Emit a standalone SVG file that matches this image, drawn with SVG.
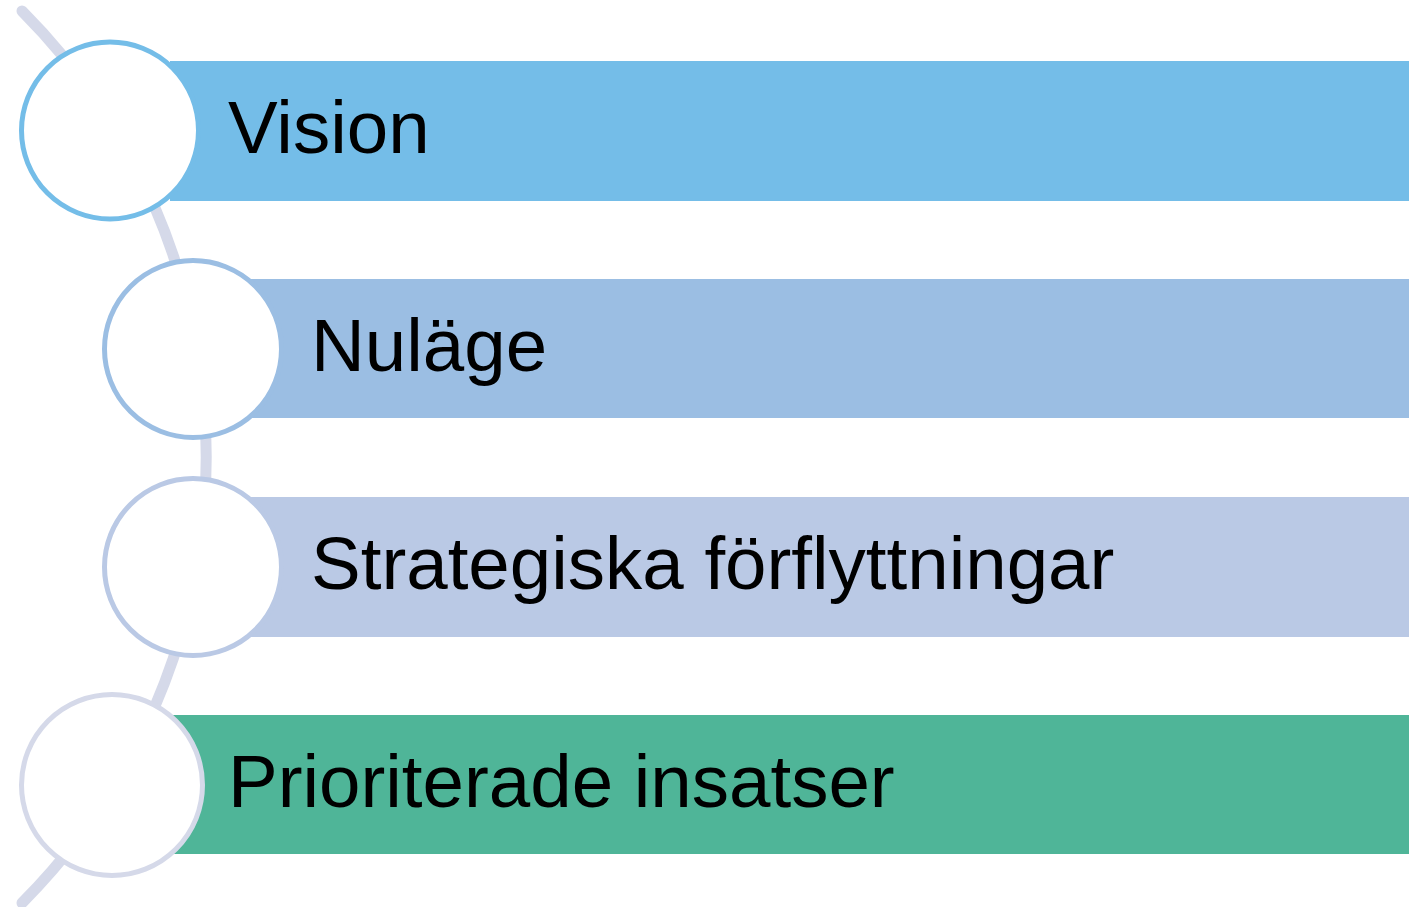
<svg xmlns="http://www.w3.org/2000/svg" width="1409" height="907" viewBox="0 0 1409 907">
  <style>
    .lbl { font-family: "Liberation Sans", Arial, sans-serif; font-size: 74.5px; fill: #000000; }
    .node-circle { fill: #ffffff; stroke-width: 5; }
  </style>
  <rect width="1409" height="907" fill="#ffffff"/>
  <g id="connectors">
    <path d="M 22 11 A 632 632 0 0 1 22 903" fill="none" stroke="#d5d9e9" stroke-width="11" stroke-linecap="round"/>
  </g>
  <g id="node-vision">
    <rect x="170" y="61" width="1239" height="140" fill="#74bde8"/>
    <circle class="node-circle" cx="110" cy="130.5" r="88.5" stroke="#74bde8"/>
    <text class="lbl" x="228" y="153">Vision</text>
  </g>
  <g id="node-nulage">
    <rect x="250" y="279" width="1159" height="139" fill="#9bbee3"/>
    <circle class="node-circle" cx="193" cy="349" r="88.5" stroke="#9bbee3"/>
    <text class="lbl" x="311" y="371">Nuläge</text>
  </g>
  <g id="node-strategiska">
    <rect x="250" y="497" width="1159" height="140" fill="#bac9e5"/>
    <circle class="node-circle" cx="193" cy="567" r="88.5" stroke="#bac9e5"/>
    <text class="lbl" x="311" y="589">Strategiska förflyttningar</text>
  </g>
  <g id="node-prioriterade">
    <rect x="170" y="715" width="1239" height="139" fill="#4fb598"/>
    <circle class="node-circle" cx="112" cy="785" r="90.5" stroke="#d5d9e9"/>
    <text class="lbl" x="228" y="807">Prioriterade insatser</text>
  </g>
</svg>
